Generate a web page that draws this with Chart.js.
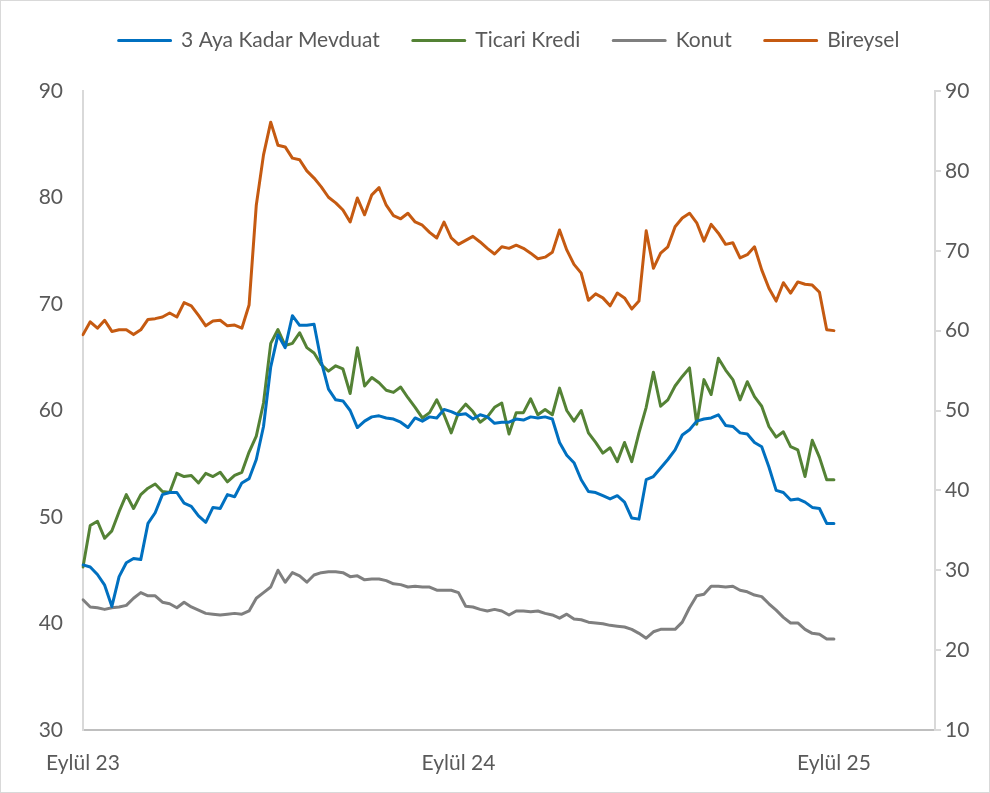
<!DOCTYPE html>
<html>
<head>
<meta charset="utf-8">
<script src="https://cdn.jsdelivr.net/npm/chart.js@4"></script>
<style>
  html, body { margin: 0; padding: 0; background: #fff; }
  #kutu { width: 990px; height: 793px; box-sizing: border-box; border: 1px solid #d9d9d9; position: relative; }
  #kutu canvas { position: absolute; left: 0; top: 0; }
</style>
</head>
<body>
<div id="kutu"><canvas id="faizGrafik" width="988" height="791"></canvas></div>
<script>
/* globals Chart:false */

// haftalik veri, Eylul 2023 - Eylul 2025
var yilEtiketleri = ['Eylül 23', 'Eylül 24', 'Eylül 25']
var haftaSayisi = 119 // eksen uzunlugu (veri 105 hafta)

var mevduat = [
  45.5, 45.3, 44.6, 43.6, 41.6, 44.4, 45.7, 46.1, 46.0, 49.4,
  50.4, 52.1, 52.3, 52.3, 51.3, 51.0, 50.1, 49.5, 50.9, 50.8,
  52.1, 51.9, 53.2, 53.6, 55.4, 58.5, 64.1, 67.1, 65.9, 68.9,
  68.0, 68.0, 68.1, 64.6, 62.0, 61.0, 60.9, 60.0, 58.4, 59.0,
  59.4, 59.5, 59.3, 59.2, 58.9, 58.4, 59.3, 59.0, 59.4, 59.3,
  60.1, 59.9, 59.6, 59.7, 59.2, 59.6, 59.4, 58.8, 58.9, 58.9,
  59.2, 59.1, 59.4, 59.3, 59.4, 59.2, 57.0, 55.8, 55.1, 53.5,
  52.4, 52.3, 52.0, 51.7, 52.0, 51.4, 49.9, 49.8, 53.5, 53.8,
  54.6, 55.4, 56.3, 57.7, 58.2, 59.0, 59.2, 59.3, 59.6, 58.6,
  58.5, 57.9, 57.8, 57.0, 56.6, 54.7, 52.5, 52.3, 51.6, 51.7,
  51.4, 50.9, 50.8, 49.4, 49.4
]

var ticari = [
  45.3, 49.2, 49.6, 48.0, 48.7, 50.5, 52.1, 50.8, 52.1, 52.7,
  53.1, 52.4, 52.3, 54.1, 53.8, 53.9, 53.2, 54.1, 53.8, 54.2,
  53.3, 53.9, 54.2, 56.1, 57.6, 60.7, 66.3, 67.6, 66.1, 66.3,
  67.3, 65.9, 65.4, 64.3, 63.7, 64.2, 63.9, 61.6, 65.9, 62.3,
  63.1, 62.6, 61.9, 61.7, 62.2, 61.2, 60.3, 59.3, 59.8, 61.0,
  59.6, 57.9, 59.8, 60.6, 59.9, 58.9, 59.4, 60.3, 60.7, 57.8,
  59.8, 59.8, 61.1, 59.6, 60.1, 59.6, 62.1, 60.0, 59.0, 60.0,
  57.9, 57.0, 56.0, 56.5, 55.2, 57.0, 55.2, 57.9, 60.3, 63.6,
  60.4, 61.0, 62.3, 63.2, 64.0, 58.7, 62.9, 61.5, 64.9, 63.8,
  62.9, 61.0, 62.7, 61.3, 60.4, 58.5, 57.5, 58.0, 56.6, 56.3,
  53.8, 57.2, 55.6, 53.5, 53.5
]

// sag eksen
var konut = [
  26.3, 25.4, 25.3, 25.1, 25.3, 25.4, 25.6, 26.5, 27.2, 26.8,
  26.8, 26.0, 25.8, 25.3, 26.0, 25.4, 25.0, 24.6, 24.5, 24.4,
  24.5, 24.6, 24.5, 24.9, 26.5, 27.2, 27.9, 30.0, 28.5, 29.7,
  29.3, 28.5, 29.4, 29.7, 29.8, 29.8, 29.7, 29.2, 29.3, 28.8,
  28.9, 28.9, 28.7, 28.3, 28.2, 27.9, 28.0, 27.9, 27.9, 27.5,
  27.5, 27.5, 27.2, 25.5, 25.4, 25.1, 24.9, 25.1, 24.9, 24.4,
  24.9, 24.9, 24.8, 24.9, 24.6, 24.4, 24.0, 24.5, 23.9, 23.8,
  23.5, 23.4, 23.3, 23.1, 23.0, 22.9, 22.6, 22.1, 21.5, 22.3,
  22.6, 22.6, 22.6, 23.5, 25.3, 26.8, 27.0, 28.0, 28.0, 27.9,
  28.0, 27.5, 27.3, 26.9, 26.7, 25.8, 25.0, 24.1, 23.4, 23.4,
  22.6, 22.1, 22.0, 21.4, 21.4
]

var bireysel = [
  59.5, 61.1, 60.3, 61.3, 59.9, 60.1, 60.1, 59.5, 60.1, 61.4,
  61.5, 61.7, 62.2, 61.7, 63.5, 63.1, 61.9, 60.6, 61.2, 61.3,
  60.6, 60.7, 60.3, 63.2, 75.7, 82.0, 86.1, 83.2, 83.0, 81.6,
  81.4, 80.0, 79.1, 78.0, 76.7, 76.0, 75.1, 73.6, 76.6, 74.5,
  77.0, 77.9, 75.7, 74.4, 74.0, 74.7, 73.6, 73.2, 72.3, 71.6,
  73.6, 71.6, 70.8, 71.3, 71.8, 71.1, 70.3, 69.6, 70.5, 70.3,
  70.7, 70.3, 69.7, 69.0, 69.2, 69.8, 72.6, 70.1, 68.3, 67.2,
  63.8, 64.6, 64.1, 63.1, 64.7, 64.1, 62.7, 63.7, 72.5, 67.8,
  69.7, 70.5, 73.0, 74.1, 74.7, 73.5, 71.2, 73.3, 72.2, 70.8,
  71.0, 69.1, 69.5, 70.5, 67.6, 65.3, 63.7, 66.0, 64.7, 66.1,
  65.8, 65.7, 64.8, 60.1, 60.0
]

var etiketler = []
for (var i = 0; i < haftaSayisi; i++) {
  etiketler.push(i % 52 === 0 ? yilEtiketleri[i / 52] : '')
}

var yazi = { family: 'Lato, "Open Sans", sans-serif', size: 21 }
var griYazi = '#595959'
var eksenRengi = '#d9d9d9'

// legend ile cizim alani arasina bosluk
var legendBosluk = {
  id: 'legendBosluk',
  beforeLayout: function (chart) {
    var lg = chart.legend
    if (!lg || lg._bosluk) return
    var eskiFit = lg.fit
    lg.fit = function () {
      eskiFit.call(this)
      this.height = 94
    }
    lg._bosluk = true
  }
}

var data = {
  labels: etiketler,
  datasets: [{
    label: '3 Aya Kadar Mevduat',
    data: mevduat,
    borderColor: '#0070c0',
    backgroundColor: '#0070c0',
    yAxisID: 'y'
  }, {
    label: 'Ticari Kredi',
    data: ticari,
    borderColor: '#548235',
    backgroundColor: '#548235',
    yAxisID: 'y'
  }, {
    label: 'Konut',
    data: konut,
    borderColor: '#7f7f7f',
    backgroundColor: '#7f7f7f',
    yAxisID: 'y1'
  }, {
    label: 'Bireysel',
    data: bireysel,
    borderColor: '#c55a11',
    backgroundColor: '#c55a11',
    yAxisID: 'y1'
  }]
}

var options = {
  responsive: false,
  animation: false,
  events: [],
  layout: { padding: { top: -4, right: 0, bottom: 0, left: 0 } },
  elements: {
    line: { borderWidth: 3, tension: 0, borderCapStyle: 'round', borderJoinStyle: 'round' },
    point: { radius: 0 }
  },
  plugins: {
    tooltip: { enabled: false },
    legend: {
      position: 'top',
      fullSize: false,
      labels: {
        boxWidth: 52,
        boxHeight: 0,
        color: griYazi,
        font: yazi,
        padding: 33
      }
    }
  },
  scales: {
    x: {
      type: 'category',
      offset: false,
      grid: { display: false, drawTicks: false },
      border: { color: '#bfbfbf', width: 2 },
      ticks: { autoSkip: false, maxRotation: 0, color: griYazi, font: yazi, padding: 21 },
      afterFit: function (s) { s.height = 62 }
    },
    y: {
      position: 'left',
      min: 30,
      max: 90,
      grid: { display: false, drawTicks: false },
      border: { color: eksenRengi, width: 2 },
      ticks: { stepSize: 10, color: griYazi, font: yazi, padding: 20 },
      afterFit: function (s) { s.width = 82 }
    },
    y1: {
      position: 'right',
      min: 10,
      max: 90,
      grid: { drawOnChartArea: false, drawTicks: true, tickLength: 6, color: eksenRengi, lineWidth: 2 },
      border: { color: eksenRengi, width: 2 },
      ticks: { stepSize: 10, color: griYazi, font: yazi, padding: 4 },
      afterFit: function (s) { s.width = 54 }
    }
  }
}

var config = {
  type: 'line',
  data: data,
  options: options,
  plugins: [legendBosluk]
}

var grafik = new Chart(document.getElementById('faizGrafik'), config)
</script>
</body>
</html>
